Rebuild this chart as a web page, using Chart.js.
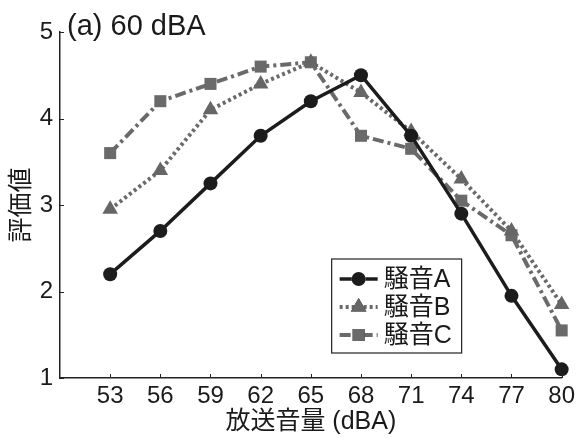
<html>
<head>
    <meta charset="utf-8" />
    <script src="https://cdn.jsdelivr.net/npm/chart.js@4/dist/chart.umd.min.js"></script>
    <title>評価値</title>
    <style>
        body { margin: 0; background: #fff; }
        #wrap { width: 579px; height: 439px; }
    </style>
</head>
<body>
    <div id="wrap"><canvas id="chart"></canvas></div>
    <script>
        // 放送音量 (dBA)
        const levels = [53, 56, 59, 62, 65, 68, 71, 74, 77, 80];
        const yTicks = [1, 2, 3, 4, 5];
        const noiseA = [2.2, 2.7, 3.25, 3.8, 4.2, 4.5, 3.8, 2.9, 1.95, 1.1];
        const noiseB = [2.95, 3.4, 4.1, 4.4, 4.65, 4.3, 3.85, 3.3, 2.7, 1.85];
        const noiseC = [3.6, 4.2, 4.4, 4.6, 4.65, 3.8, 3.65, 3.05, 2.65, 1.55];
        const seriesNames = ["騒音A", "騒音B", "騒音C"];

        const latin = '"Liberation Sans", "Noto Sans CJK JP"';
        const cjk = '"Liberation Sans", "Noto Sans CJK JP"';

        function pts(vals) {
            return levels.map((x, i) => ({ x: x, y: vals[i] }));
        }

        // small inward tick marks on both axes
        const innerTicks = {
            id: "innerTicks",
            afterDatasetsDraw(chart) {
                const ctx = chart.ctx;
                const xs = chart.scales.x, ys = chart.scales.y;
                ctx.save();
                ctx.strokeStyle = "#222";
                ctx.lineWidth = 1;
                xs.ticks.forEach(t => {
                    const px = Math.round(xs.getPixelForValue(t.value)) + 0.5;
                    ctx.beginPath();
                    ctx.moveTo(px, xs.top);
                    ctx.lineTo(px, xs.top - 4);
                    ctx.stroke();
                });
                ys.ticks.forEach(t => {
                    const py = Math.round(ys.getPixelForValue(t.value)) + 0.5;
                    ctx.beginPath();
                    ctx.moveTo(ys.right, py);
                    ctx.lineTo(ys.right + 4, py);
                    ctx.stroke();
                });
                ctx.restore();
            }
        };

        // panel title
        const panelTitle = {
            id: "panelTitle",
            afterDraw(chart) {
                const ctx = chart.ctx;
                const a = chart.chartArea;
                ctx.save();
                ctx.fillStyle = "#1a1a1a";
                ctx.font = "29px " + cjk;
                ctx.textBaseline = "alphabetic";
                ctx.textAlign = "left";
                ctx.fillText("(a) 60 dBA", a.left + 7, a.top + 3);
                ctx.restore();
            }
        };

        // legend box inside the plot, lower right
        const boxLegend = {
            id: "boxLegend",
            afterDraw(chart) {
                const ctx = chart.ctx;
                const a = chart.chartArea;
                const w = 130, h = 94;
                const x0 = a.right - 100 - w, y0 = a.bottom - 25 - h;
                ctx.save();
                ctx.fillStyle = "#fff";
                ctx.fillRect(x0, y0, w, h);
                ctx.strokeStyle = "#222";
                ctx.lineWidth = 1.2;
                ctx.strokeRect(x0, y0, w, h);
                const list = chart.data.datasets.slice().sort((p, q) => p.label.localeCompare(q.label));
                list.forEach((ds, i) => {
                    const cy = y0 + 20 + i * 28;
                    ctx.save();
                    ctx.strokeStyle = ds.borderColor;
                    ctx.lineWidth = ds.borderWidth;
                    ctx.setLineDash(ds.borderDash || []);
                    ctx.beginPath();
                    ctx.moveTo(x0 + 8, cy);
                    ctx.lineTo(x0 + 46, cy);
                    ctx.stroke();
                    ctx.restore();
                    Chart.helpers.drawPoint(ctx, {
                        pointStyle: ds.pointStyle,
                        radius: ds.pointRadius,
                        rotation: 0,
                        borderWidth: 0
                    }, x0 + 27, cy);
                    ctx.fillStyle = ds.pointBackgroundColor;
                    ctx.fill();
                    ctx.fillStyle = "#1a1a1a";
                    ctx.font = "25px " + cjk;
                    ctx.textBaseline = "middle";
                    ctx.textAlign = "left";
                    ctx.fillText(ds.label, x0 + 52, cy + 1);
                });
                ctx.restore();
            }
        };

        new Chart(document.getElementById("chart"), {
            type: "line",
            data: {
                datasets: [
                    {
                        label: seriesNames[2],
                        data: pts(noiseC),
                        borderColor: "#6a6a6a",
                        backgroundColor: "#6a6a6a",
                        pointBackgroundColor: "#6a6a6a",
                        pointBorderColor: "#6a6a6a",
                        borderWidth: 4,
                        borderDash: [11, 4, 3, 4],
                        pointStyle: "rect",
                        pointRadius: 8.5,
                        pointBorderWidth: 0,
                        tension: 0,
                        clip: false,
                        order: 3
                    },
                    {
                        label: seriesNames[1],
                        data: pts(noiseB),
                        borderColor: "#6a6a6a",
                        backgroundColor: "#6a6a6a",
                        pointBackgroundColor: "#666",
                        pointBorderColor: "#666",
                        borderWidth: 4,
                        borderDash: [3, 3],
                        pointStyle: "triangle",
                        pointRadius: 9,
                        pointBorderWidth: 0,
                        tension: 0,
                        clip: false,
                        order: 2
                    },
                    {
                        label: seriesNames[0],
                        data: pts(noiseA),
                        borderColor: "#1c1c1c",
                        backgroundColor: "#1c1c1c",
                        pointBackgroundColor: "#1c1c1c",
                        pointBorderColor: "#1c1c1c",
                        borderWidth: 3.5,
                        pointStyle: "circle",
                        pointRadius: 7,
                        pointBorderWidth: 0,
                        tension: 0,
                        clip: false,
                        order: 1
                    }
                ]
            },
            options: {
                responsive: true,
                maintainAspectRatio: false,
                animation: false,
                layout: { padding: { top: 32, right: 16, left: 0, bottom: 0 } },
                plugins: {
                    legend: { display: false },
                    tooltip: { enabled: false }
                },
                scales: {
                    x: {
                        type: "linear",
                        min: 50,
                        max: 80,
                        afterBuildTicks: s => { s.ticks = levels.map(v => ({ value: v })); },
                        afterFit: s => { s.height = 61; },
                        grid: { display: false, drawTicks: false },
                        border: { display: true, color: "#222", width: 1.5 },
                        ticks: {
                            autoSkip: false,
                            maxRotation: 0,
                            padding: 4,
                            color: "#1a1a1a",
                            font: { family: latin, size: 24 }
                        },
                        title: {
                            display: true,
                            text: "放送音量 (dBA)",
                            color: "#1a1a1a",
                            font: { family: cjk, size: 25 },
                            padding: { top: 0, bottom: 2 }
                        }
                    },
                    y: {
                        min: 1,
                        max: 5,
                        afterBuildTicks: s => { s.ticks = yTicks.map(v => ({ value: v })); },
                        afterFit: s => { s.width = 60; },
                        grid: { display: false, drawTicks: false },
                        border: { display: true, color: "#222", width: 1.5 },
                        ticks: {
                            padding: 7,
                            color: "#1a1a1a",
                            font: { family: latin, size: 24 }
                        },
                        title: {
                            display: true,
                            text: "評価値",
                            color: "#1a1a1a",
                            font: { family: cjk, size: 25 },
                            padding: { top: 7, bottom: 0 }
                        }
                    }
                }
            },
            plugins: [innerTicks, panelTitle, boxLegend]
        });
    </script>
</body>
</html>
